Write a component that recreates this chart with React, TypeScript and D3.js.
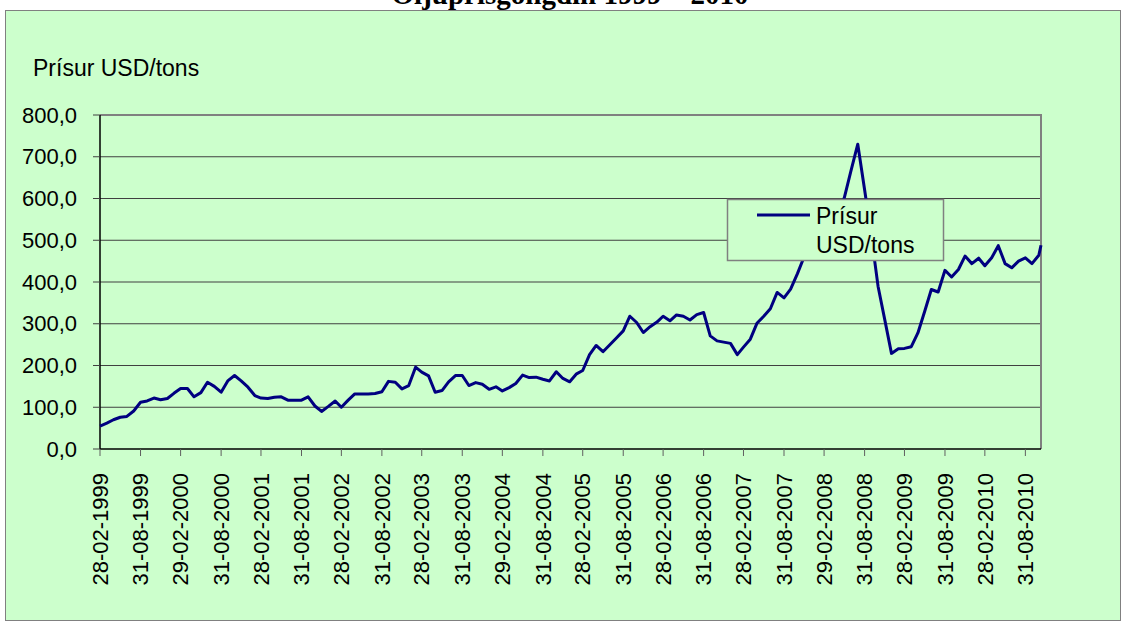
import React, { useEffect, useRef } from 'react';
import * as d3 from 'd3';

// Monthly oil price (USD/ton), month-end values from Feb 1999 to Oct 2010
const firstYear = 1999;
const firstMonth = 1; // February (0-based)
const prices = [
  55, 62, 70, 76, 78, 91, 112, 115, 122, 118, 121, 134,
  145, 145, 125, 135, 160, 150, 136, 163, 176, 163, 148, 128,
  122, 121, 124, 125, 117, 117, 117, 125, 103, 90, 102, 115,
  100, 117, 132, 132, 132, 133, 137, 162, 160, 144, 152, 196,
  184, 175, 136, 140, 161, 176, 176, 152, 159, 155, 143, 149,
  139, 147, 157, 177, 171, 172, 167, 163, 185, 169, 161, 180,
  188, 226, 248, 233, 249, 266, 283, 318, 303, 279, 293, 304,
  318, 307, 321, 318, 309, 322, 327, 271, 259, 256, 253, 226,
  244, 263, 301, 318, 336, 375, 362, 383, 420, 460, 470, 490,
  505, 530, 560, 602, 666, 730, 621, 513, 390, 311, 229, 240,
  241, 245, 278, 330, 382, 376, 428, 412, 430, 462, 444, 457,
  439, 458, 487, 444, 434, 450, 458, 444, 464,
];
// last reading is a mid-month value
const lastDate = '10-11-2010';
const lastPrice = 488;

const tickLabels = [
  '28-02-1999', '31-08-1999', '29-02-2000', '31-08-2000', '28-02-2001', '31-08-2001',
  '28-02-2002', '31-08-2002', '28-02-2003', '31-08-2003', '29-02-2004', '31-08-2004',
  '28-02-2005', '31-08-2005', '28-02-2006', '31-08-2006', '28-02-2007', '31-08-2007',
  '29-02-2008', '31-08-2008', '28-02-2009', '31-08-2009', '28-02-2010', '31-08-2010',
];
const yTicks = [0, 100, 200, 300, 400, 500, 600, 700, 800];

const chartTitle = 'Oljuprísgongdin 1999 – 2010';
const axisTitle = 'Prísur USD/tons';
const legendLines = ['Prísur', 'USD/tons'];

const parseDate = d3.timeParse('%d-%m-%Y');

export default function App() {
  const svgRef = useRef<SVGSVGElement>(null);

  useEffect(() => {
    if (!svgRef.current) return;
    const svg = d3.select(svgRef.current);
    svg.selectAll('*').remove();

    const width = 1126;
    const height = 625;
    const sans = '"Liberation Sans", Arial, sans-serif';

    // data points at month ends
    const points = prices.map((v, i) => ({
      date: new Date(firstYear, firstMonth + i + 1, 0),
      value: v,
    }));
    points.push({ date: parseDate(lastDate)!, value: lastPrice });

    const plot = { left: 100, right: 1041, top: 115, bottom: 449 };

    const x = d3.scaleTime()
      .domain([points[0].date, points[points.length - 1].date])
      .range([plot.left, plot.right]);

    const y = d3.scaleLinear()
      .domain([0, 800])
      .range([plot.bottom, plot.top]);

    svg.attr('width', width).attr('height', height);

    // chart background
    svg.append('rect')
      .attr('x', 5.5)
      .attr('y', 10.5)
      .attr('width', 1115)
      .attr('height', 610)
      .attr('fill', '#ccffcc')
      .attr('stroke', '#808080');

    // title (partly cut off at the top, as in the source)
    svg.append('text')
      .attr('x', 570)
      .attr('y', 4)
      .attr('text-anchor', 'middle')
      .style('font-family', '"Liberation Serif", "Times New Roman", serif')
      .style('font-weight', 'bold')
      .style('font-size', '29px')
      .text(chartTitle);

    // gridlines
    svg.append('g')
      .selectAll('line')
      .data(yTicks.filter(t => t > 0 && t < 800))
      .enter()
      .append('line')
      .attr('x1', plot.left)
      .attr('x2', plot.right)
      .attr('y1', d => y(d))
      .attr('y2', d => y(d))
      .attr('stroke', '#404040')
      .attr('stroke-width', 1.2);

    // plot border (top and right)
    svg.append('path')
      .attr('d', `M${plot.left},${plot.top}H${plot.right}V${plot.bottom}`)
      .attr('fill', 'none')
      .attr('stroke', '#808080')
      .attr('stroke-width', 2);

    // y axis
    const yAxis = svg.append('g');
    yAxis.append('line')
      .attr('x1', plot.left).attr('x2', plot.left)
      .attr('y1', plot.top).attr('y2', plot.bottom)
      .attr('stroke', '#000').attr('stroke-width', 1.5);
    yTicks.forEach(t => {
      yAxis.append('line')
        .attr('x1', plot.left - 7).attr('x2', plot.left)
        .attr('y1', y(t)).attr('y2', y(t))
        .attr('stroke', '#404040');
      yAxis.append('text')
        .attr('x', 77)
        .attr('y', y(t))
        .attr('dy', '0.35em')
        .attr('text-anchor', 'end')
        .style('font-family', sans)
        .style('font-size', '22px')
        .text(d3.format('.1f')(t).replace('.', ','));
    });

    // x axis
    const xAxis = svg.append('g');
    xAxis.append('line')
      .attr('x1', plot.left).attr('x2', plot.right)
      .attr('y1', plot.bottom).attr('y2', plot.bottom)
      .attr('stroke', '#000').attr('stroke-width', 1.5);
    tickLabels.forEach(lbl => {
      const tx = x(parseDate(lbl)!);
      xAxis.append('line')
        .attr('x1', tx).attr('x2', tx)
        .attr('y1', plot.bottom).attr('y2', plot.bottom + 7)
        .attr('stroke', '#606060');
      xAxis.append('text')
        .attr('transform', `translate(${tx},473) rotate(-90)`)
        .attr('dy', '0.35em')
        .attr('text-anchor', 'end')
        .style('font-family', sans)
        .style('font-size', '22px')
        .text(lbl);
    });

    // axis title
    svg.append('text')
      .attr('x', 33)
      .attr('y', 76)
      .style('font-family', sans)
      .style('font-size', '23px')
      .text(axisTitle);

    // price line
    const line = d3.line<{ date: Date; value: number }>()
      .x(d => x(d.date))
      .y(d => y(d.value));

    svg.append('path')
      .datum(points)
      .attr('d', line)
      .attr('fill', 'none')
      .attr('stroke', '#000080')
      .attr('stroke-width', 3)
      .attr('stroke-linejoin', 'round');

    // legend (drawn on top of the line)
    const legend = svg.append('g').attr('transform', 'translate(727,199)');
    legend.append('rect')
      .attr('x', 0.5)
      .attr('y', 0.5)
      .attr('width', 216)
      .attr('height', 61)
      .attr('fill', '#ccffcc')
      .attr('stroke', '#808080')
      .attr('stroke-width', 1.5);
    legend.append('line')
      .attr('x1', 30).attr('x2', 83)
      .attr('y1', 16).attr('y2', 16)
      .attr('stroke', '#000080')
      .attr('stroke-width', 3);
    legend.selectAll('text.lg')
      .data(legendLines)
      .enter()
      .append('text')
      .attr('class', 'lg')
      .attr('x', 89)
      .attr('y', (_, i) => 25 + i * 29)
      .style('font-family', sans)
      .style('font-size', '23px')
      .text(d => d);
  }, []);

  return (
    <div style={{ position: 'fixed', left: 0, top: 0, background: '#fff' }}>
      <svg ref={svgRef} style={{ display: 'block' }} />
    </div>
  );
}
